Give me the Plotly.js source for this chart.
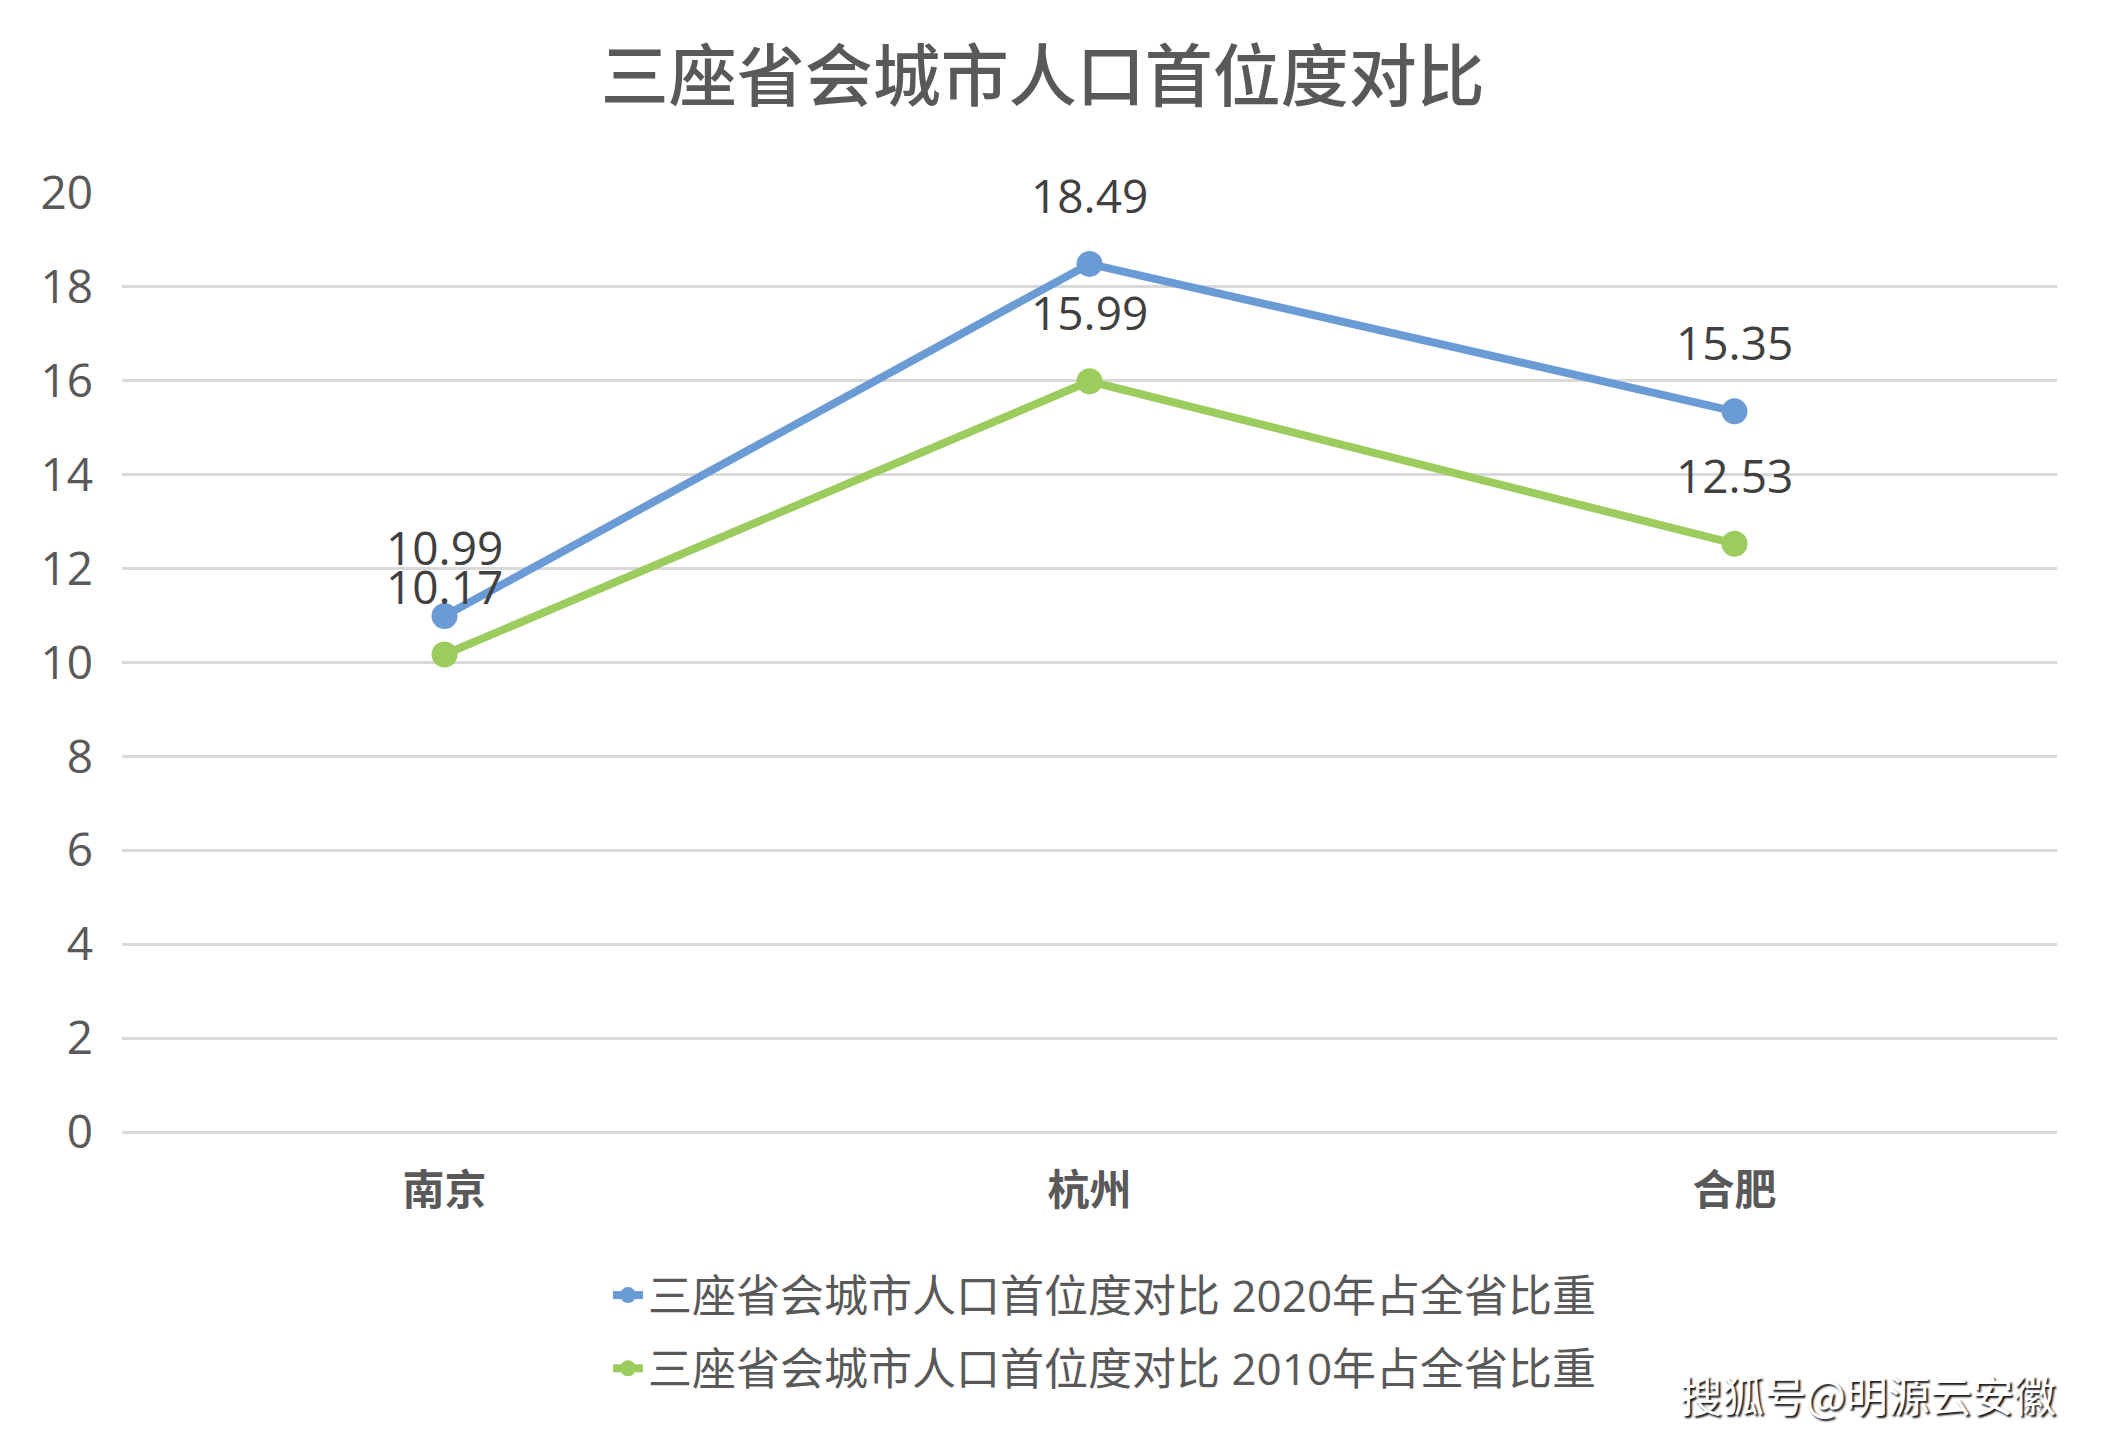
<!DOCTYPE html>
<html>
<head>
<meta charset="utf-8">
<script src="https://cdn.plot.ly/plotly-3.0.1.min.js"></script>
<style>html,body{margin:0;padding:0;background:#fff;}#chart{width:2111px;height:1440px;}</style>
</head>
<body>
<div id="chart"></div>
<script>
const chartTitle = '三座省会城市人口首位度对比';
const categories = ['南京', '杭州', '合肥'];
const share2020 = [10.99, 18.49, 15.35];
const share2010 = [10.17, 15.99, 12.53];
const seriesNames = ['三座省会城市人口首位度对比 2020年占全省比重', '三座省会城市人口首位度对比 2010年占全省比重'];
const seriesColors = ['#6A9BD4', '#9DCC5E'];
const yTickValues = [0, 2, 4, 6, 8, 10, 12, 14, 16, 18, 20];
const watermark = '搜狐号@明源云安徽';

const FONT = '"Open Sans", "Noto Sans CJK SC", sans-serif';
const seriesValues = [share2020, share2010];

const traces = seriesValues.map((vals, i) => ({
  type: 'scatter',
  mode: 'lines+markers',
  x: categories,
  y: vals,
  name: seriesNames[i],
  legendgroup: 'g' + i,
  line: {color: seriesColors[i], width: 8},
  marker: {color: seriesColors[i], size: 26},
  hoverinfo: 'skip'
}));

const annotations = [];
seriesValues.forEach((vals, i) => {
  vals.forEach((v, j) => {
    annotations.push({
      x: categories[j], y: v, xref: 'x', yref: 'y',
      text: v.toFixed(2), showarrow: false, yshift: 69,
      font: {family: FONT, size: 46, color: '#404040'}
    });
  });
});
annotations.push({
  xref: 'paper', yref: 'paper', x: (1868 - 122) / 1935, y: -(1393 - 1132) / 939,
  xanchor: 'center', yanchor: 'middle',
  text: watermark, showarrow: false,
  font: {family: '"Noto Sans CJK SC", sans-serif', size: 42, color: '#ffffff', shadow: '2px 2px 2px rgba(0,0,0,0.95)'}
});

const layout = {
  width: 2111, height: 1440,
  paper_bgcolor: '#ffffff', plot_bgcolor: '#ffffff',
  margin: {l: 122, r: 54, t: 193, b: 308, autoexpand: false},
  font: {family: FONT, color: '#595959'},
  title: {
    text: chartTitle, xref: 'container', x: 0.494, xanchor: 'center',
    yref: 'container', y: 1 - 77 / 1440, yanchor: 'middle',
    font: {family: '"Noto Sans CJK SC", sans-serif', size: 68, color: '#595959', weight: 500}
  },
  xaxis: {
    type: 'category', range: [-0.5, 2.5], showgrid: false, showline: false, zeroline: false,
    ticks: '', ticklabelstandoff: 30, automargin: false,
    tickfont: {family: '"Noto Sans CJK SC", sans-serif', size: 42, color: '#595959', weight: 'bold'}
  },
  yaxis: {
    range: [0, 20], tickvals: yTickValues, ticktext: yTickValues.map(String),
    showgrid: true, gridcolor: '#D9D9D9', gridwidth: 3,
    zeroline: true, zerolinecolor: '#D9D9D9', zerolinewidth: 3,
    showline: false, ticks: '', ticklabelstandoff: 28, automargin: false,
    tickfont: {family: FONT, size: 46, color: '#595959'}
  },
  showlegend: true,
  legend: {
    orientation: 'v', xref: 'paper', yref: 'paper',
    x: (608 - 122) / 1935, xanchor: 'left', y: -(1260 - 1132) / 939, yanchor: 'top',
    tracegroupgap: 13, bgcolor: 'rgba(0,0,0,0)',
    font: {family: FONT, size: 44, color: '#595959'}
  },
  annotations: annotations
};

Plotly.newPlot('chart', traces, layout, {staticPlot: true, displayModeBar: false});
</script>
</body>
</html>
